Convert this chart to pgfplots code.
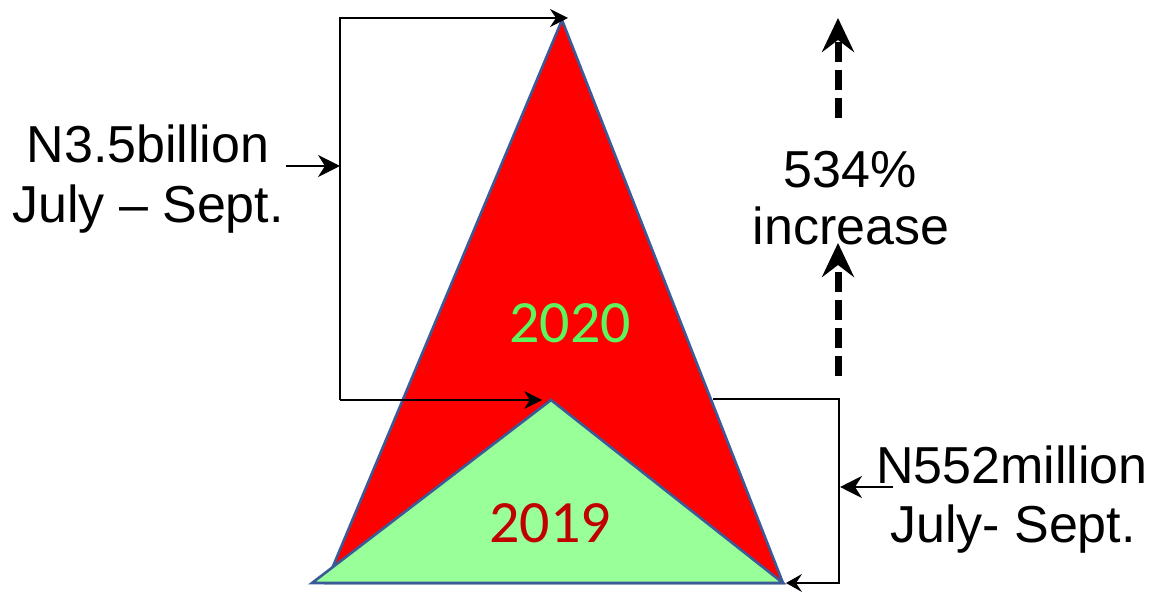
\documentclass[border=0pt]{standalone}
\usepackage{pgfplots}
\pgfplotsset{compat=1.18}
\usepackage{fontspec}
\setmainfont{Liberation Sans}
\newfontfamily\calibri{Carlito}
\usetikzlibrary{arrows.meta}
\definecolor{outl}{HTML}{3A5A98}
\definecolor{lgreen}{HTML}{99FF99}
\definecolor{tgreen}{HTML}{5CF55C}
\definecolor{dred}{HTML}{C00000}
\begin{document}
\begin{tikzpicture}
\begin{axis}[x=0.5pt,y=0.5pt,xmin=0,xmax=1161,ymin=0,ymax=587,y dir=reverse,
  hide axis,clip=false,scale only axis]
\addplot[draw=none] coordinates {(0,0) (1161,587)};
% triangles
\addplot[fill=red,draw=outl,line width=1.3pt] coordinates {(562,20) (326,583) (783,583)} -- cycle;
\addplot[fill=lgreen,draw=outl,line width=1.3pt] coordinates {(551,400) (312,583) (783,583)} -- cycle;
% left bracket
\addplot[black,line width=0.8pt,-{Stealth[length=9pt,width=9pt,inset=3pt]}] coordinates {(340,400) (340,18) (568,18)};
\addplot[black,line width=0.8pt,-{Stealth[length=9pt,width=9pt,inset=3pt]}] coordinates {(340,400) (542,400)};
\addplot[black,line width=0.8pt,-{Stealth[length=11pt,width=11pt,inset=3.5pt]}] coordinates {(286,166) (340,166)};
% right bracket
\addplot[black,line width=0.8pt,-{Stealth[length=8pt,width=9pt,inset=3pt]}] coordinates {(713,399) (839,399) (839,583) (786,583)};
\addplot[black,line width=0.8pt,-{Stealth[length=11pt,width=11pt,inset=3.5pt]}] coordinates {(893,487) (840,487)};
% dashed arrows
\addplot[black,line width=3.5pt,dash pattern=on 10pt off 4pt,-{Stealth[length=17pt,width=16pt,inset=6pt]}] coordinates {(838,118) (838,18)};
\addplot[black,line width=3.5pt,dash pattern=on 10pt off 4pt,-{Stealth[length=17pt,width=16pt,inset=6pt]}] coordinates {(838,376) (838,243)};
% texts
\node[anchor=base,inner sep=0pt,font=\fontsize{26}{30}\selectfont] at (axis cs:148,163) {N3.5billion};
\node[anchor=base,inner sep=0pt,font=\fontsize{26}{30}\selectfont] at (axis cs:148,223) {July – Sept.};
\node[anchor=base,inner sep=0pt,font=\fontsize{26}{30}\selectfont] at (axis cs:1012,484) {N552million};
\node[anchor=base,inner sep=0pt,font=\fontsize{26}{30}\selectfont] at (axis cs:1013,542) {July- Sept.};
\node[anchor=base,inner sep=0pt,font=\fontsize{26}{30}\selectfont] at (axis cs:850,188) {534\%};
\node[anchor=base,inner sep=0pt,font=\fontsize{26}{30}\selectfont] at (axis cs:851,245) {increase};
\node[anchor=base,inner sep=0pt,text=tgreen,font=\calibri\fontsize{30}{36}\selectfont] at (axis cs:570,343) {2020};
\node[anchor=base,inner sep=0pt,text=dred,font=\calibri\fontsize{30}{36}\selectfont] at (axis cs:550,543) {2019};
\end{axis}
\end{tikzpicture}
\end{document}
